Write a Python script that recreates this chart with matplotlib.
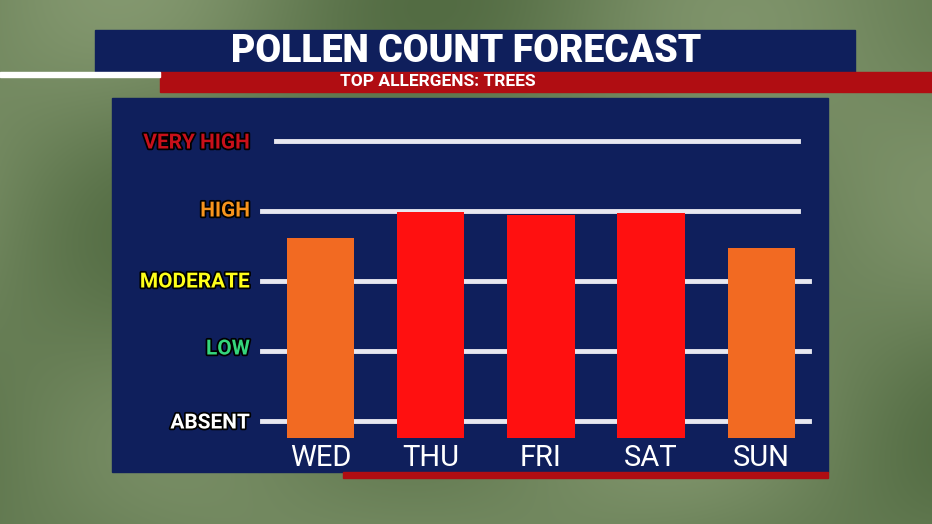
import numpy as np
import matplotlib
matplotlib.use("Agg")
import matplotlib.pyplot as plt
from matplotlib.patches import Rectangle
import matplotlib.patheffects as pe

days = ["WED", "THU", "FRI", "SAT", "SUN"]
values = [2.61, 2.98, 2.95, 2.97, 2.47]
bar_colors = ["#f26a22", "#ff1010", "#ff1010", "#ff1010", "#f26a22"]
levels = ["ABSENT", "LOW", "MODERATE", "HIGH", "VERY HIGH"]
level_colors = ["#ffffff", "#35d67c", "#ffff1a", "#f7941d", "#c8101a"]
title = "POLLEN COUNT FORECAST"
subtitle = "TOP ALLERGENS: TREES"

W, H = 932, 524
fig = plt.figure(figsize=(W/100, H/100), dpi=100)
bg = fig.add_axes([0, 0, 1, 1])
bg.set_xlim(0, W); bg.set_ylim(H, 0); bg.axis("off")

# background: blurred green gradient
yy, xx = np.mgrid[0:H, 0:W]
g = 0.5 + 0.25*np.sin(xx/90.0)*np.cos(yy/70.0) + 0.15*np.cos((xx+yy)/150.0)
base = np.array([0.30, 0.40, 0.24]); light = np.array([0.72, 0.78, 0.62])
img = base[None, None, :]*(1-g[..., None]*0.6) + light[None, None, :]*(g[..., None]*0.6)
img = np.clip(img, 0, 1)
bg.imshow(img, extent=(0, W, H, 0), aspect="auto", zorder=0)

navy = "#0f1f5c"
bg.add_patch(Rectangle((95, 30), 760, 42, color=navy, zorder=1))
bg.add_patch(Rectangle((160, 72), 772, 20, color="#b00d12", zorder=1))
bg.add_patch(Rectangle((0, 72), 160, 5, color="#ffffff", zorder=1))
bg.add_patch(Rectangle((112, 98), 716, 374, color=navy, zorder=1))
bg.add_patch(Rectangle((343, 472), 485, 6, color="#b00d12", zorder=1))
bg.text(466, 52, title, color="white", fontsize=27, fontweight="black",
        ha="center", va="center", family="Roboto", zorder=2)
bg.text(438, 82, subtitle, color="white", fontsize=12.5, fontweight="bold",
        ha="center", va="center", family="Roboto", zorder=2)

level_y = [421, 347, 280, 209, 141]
for lab, c, y in zip(levels, level_colors, level_y):
    bg.text(250, y+2, lab, color=c, fontsize=15, fontweight="bold", ha="right",
            va="center", family="Roboto", zorder=2,
            path_effects=[pe.withStroke(linewidth=2.5, foreground="black")])

# data axes
left, right, bottom, top = 262, 815, 438, 141
ax = fig.add_axes([left/W, 1-bottom/H, (right-left)/W, (bottom-top)/H])
ax.set_xlim(-0.535, 4.49); ax.set_ylim(-0.24, 4.0)
ax.patch.set_alpha(0); ax.axis("off")
for i in range(len(levels)):
    xmin = 0.025 if i == 4 else 0.0
    xmax = 0.97 if i >= 3 else 0.99
    ax.axhline(i, xmin=xmin, xmax=xmax, color="#e8e8f0", lw=3.5, zorder=1, clip_on=False)
x = np.arange(len(days))
ax.bar(x, np.array(values)+0.24, bottom=-0.24, width=0.61, color=bar_colors, zorder=2)
for xi, d in zip(x, days):
    ax.text(xi, -0.33, d, color="white", fontsize=21, ha="center", va="top",
            family="Roboto", clip_on=False)

fig.savefig("out.png", dpi=100)
